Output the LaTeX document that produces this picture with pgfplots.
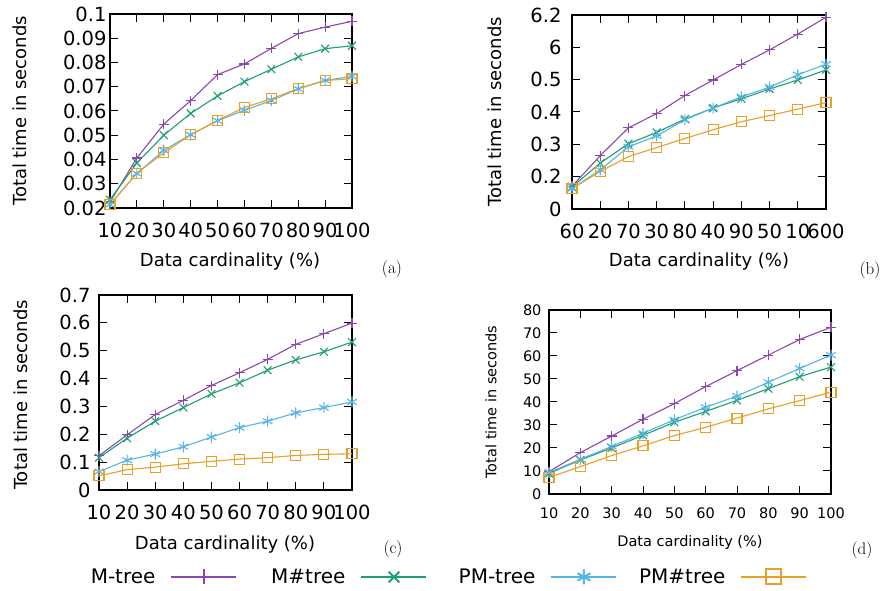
\documentclass[border=0pt]{standalone}
\usepackage{pgfplots}
\pgfplotsset{compat=1.18}
\usepackage{pgfplotstable}
\usepackage{fontspec}
\newfontfamily\dejavu{DejaVu Sans}
\definecolor{cM}{HTML}{8B47AD}
\definecolor{cMs}{HTML}{1E9E72}
\definecolor{cPM}{HTML}{56B4E9}
\definecolor{cPMs}{HTML}{E8A028}

\pgfplotstableread{
x M Ms PM PMs
10 0.0225 0.0234 0.0214 0.0214
20 0.0406 0.0386 0.0342 0.0344
30 0.0546 0.0500 0.0438 0.0427
40 0.0643 0.0590 0.0502 0.0502
50 0.0750 0.0662 0.0560 0.0561
60 0.0794 0.0721 0.0603 0.0615
70 0.0858 0.0772 0.0643 0.0650
80 0.0919 0.0823 0.0691 0.0693
90 0.0946 0.0857 0.0726 0.0726
100 0.0970 0.0869 0.0743 0.0733
}\tA
\pgfplotstableread{
x M Ms PM PMs
10 0.170 0.168 0.163 0.163
20 0.265 0.242 0.221 0.216
30 0.351 0.302 0.292 0.262
40 0.395 0.337 0.326 0.290
50 0.451 0.378 0.376 0.318
60 0.499 0.412 0.412 0.345
70 0.547 0.441 0.447 0.370
80 0.592 0.471 0.477 0.389
90 0.641 0.499 0.515 0.409
100 0.693 0.530 0.548 0.429
}\tB
\pgfplotstableread{
x M Ms PM PMs
10 0.123 0.116 0.066 0.051
20 0.198 0.186 0.107 0.073
30 0.271 0.247 0.129 0.082
40 0.322 0.296 0.155 0.094
50 0.375 0.345 0.190 0.103
60 0.421 0.385 0.224 0.111
70 0.469 0.430 0.247 0.116
80 0.523 0.467 0.277 0.124
90 0.561 0.496 0.296 0.128
100 0.599 0.531 0.316 0.130
}\tC
\pgfplotstableread{
x M Ms PM PMs
10 9.7 9.0 9.3 7.2
20 18.0 14.8 15.1 11.9
30 25.2 20.0 20.7 16.7
40 32.5 25.5 26.4 20.9
50 39.3 31.2 32.3 25.4
60 46.7 35.9 37.7 29.0
70 53.6 40.7 42.6 33.0
80 60.4 45.8 48.6 37.0
90 67.2 51.0 54.6 40.6
100 72.5 55.2 60.4 44.3
}\tD

\newcommand{\bigf}{\dejavu\fontsize{18}{21}\selectfont}
\newcommand{\tickf}{\dejavu\fontsize{19.5}{22}\selectfont}
\newcommand{\legf}{\dejavu\fontsize{20}{23}\selectfont}
\newcommand{\smallf}{\dejavu\fontsize{14.5}{17}\selectfont}

\pgfplotsset{
  gp/.style={
    scale only axis, anchor=south west, clip=false,
    axis line style={line width=1.1pt},
    every tick/.style={black, line width=1pt},
    major tick length=8pt, tick align=inside,
    tick label style={font=\tickf},
    label style={font=\bigf},
    /pgf/number format/assume math mode=true,
    xmin=10, xmax=100, xtick={10,20,...,100},
    xlabel={Data cardinality (\%)},
    ylabel={Total time in seconds},
  },
  sM/.style={color=cM, line width=1.1pt, mark=+, mark size=5pt, mark options={line width=1.1pt}},
  sMs/.style={color=cMs, line width=1.1pt, mark=x, mark size=5.5pt, mark options={line width=1.1pt}},
  sPM/.style={color=cPM, line width=1.1pt, mark=asterisk, mark size=5.5pt, mark options={line width=1.1pt}},
  sPMs/.style={color=cPMs, line width=1.1pt, mark=square, mark size=5pt, mark options={line width=1.1pt}},
}

\begin{document}
\begin{tikzpicture}
\path[use as bounding box] (0,0) rectangle (886pt,591pt);

% (a)
\begin{axis}[gp, at={(110pt,383pt)}, width=242pt, height=194pt,
  ymin=0.02, ymax=0.1, ytick={0.02,0.03,...,0.1},
  yticklabel style={/pgf/number format/.cd, fixed, precision=2},
  xticklabel style={yshift=-11pt},
  xlabel style={at={(axis description cs:0.496,-0.278)}, anchor=center},
  ylabel style={at={(axis description cs:-0.372,0.5)}, anchor=center},
]
\addplot[sM] table[x=x,y=M]{\tA};
\addplot[sMs] table[x=x,y=Ms]{\tA};
\addplot[sPM] table[x=x,y=PM]{\tA};
\addplot[sPMs] table[x=x,y=PMs]{\tA};
\node[font=\fontsize{17}{20}\selectfont] at (axis description cs:1.165,-0.314) {(a)};
\end{axis}

% (b)
\begin{axis}[gp, at={(572pt,382pt)}, width=254pt, height=194pt,
  ymin=0.1, ymax=0.7, ytick={0.1,0.2,0.3,0.4,0.5,0.6,0.7},
  yticklabels={0,0.2,0.3,0.4,0.5,6,6.2},
  yticklabel style={xshift=-7pt},
  xticklabels={60,20,70,30,80,40,90,50,10,600},
  xticklabel style={yshift=-11pt},
  xlabel style={at={(axis description cs:0.5,-0.273)}, anchor=center},
  ylabel style={at={(axis description cs:-0.303,0.5)}, anchor=center},
]
\addplot[sM] table[x=x,y=M]{\tB};
\addplot[sMs] table[x=x,y=Ms]{\tB};
\addplot[sPM] table[x=x,y=PM]{\tB};
\addplot[sPMs] table[x=x,y=PMs]{\tB};
\node[font=\fontsize{17}{20}\selectfont] at (axis description cs:1.173,-0.314) {(b)};
\end{axis}

% (c)
\begin{axis}[gp, at={(99pt,101pt)}, width=253pt, height=195pt,
  ymin=0, ymax=0.7, ytick={0,0.1,...,0.7},
  yticklabel style={xshift=-5pt, /pgf/number format/.cd, fixed, precision=1},
  xticklabel style={yshift=-11pt},
  xlabel style={at={(axis description cs:0.498,-0.282)}, anchor=center},
  ylabel style={at={(axis description cs:-0.308,0.487)}, anchor=center},
  legend columns=4, legend plot pos=right,
  legend style={at={(axis description cs:1.33,-0.446)}, anchor=center,
    draw=none, fill=none, font=\legf, nodes={inner sep=0pt},
    /tikz/every odd column/.append style={column sep=15pt},
    /tikz/every even column/.append style={column sep=16pt}},
  legend image code/.code={\draw[mark repeat=2,mark phase=2,#1,line width=2pt,mark size=7.5pt,mark options={line width=2pt}] plot coordinates {(0pt,0pt) (32.5pt,0pt) (65pt,0pt)};},
]
\addplot[sM] table[x=x,y=M]{\tC};
\addplot[sMs] table[x=x,y=Ms]{\tC};
\addplot[sPM] table[x=x,y=PM]{\tC};
\addplot[sPMs] table[x=x,y=PMs]{\tC};
\legend{\makebox[92pt][r]{M-tree}, \makebox[92pt][r]{M\#tree}, \makebox[92pt][r]{PM-tree}, \makebox[92pt][r]{PM\#tree}}
\node[font=\fontsize{17}{20}\selectfont] at (axis description cs:1.162,-0.303) {(c)};
\end{axis}

% (d)
\begin{axis}[gp, at={(549pt,97pt)}, width=282pt, height=184pt,
  tick label style={font=\smallf}, label style={font=\smallf},
  ymin=0, ymax=80, ytick={0,10,...,80},
  yticklabel style={xshift=-4pt},
  xticklabel style={yshift=-10pt},
  xlabel style={at={(axis description cs:0.5,-0.266)}, anchor=center},
  ylabel style={at={(axis description cs:-0.206,0.5)}, anchor=center},
]
\addplot[sM] table[x=x,y=M]{\tD};
\addplot[sMs] table[x=x,y=Ms]{\tD};
\addplot[sPM] table[x=x,y=PM]{\tD};
\addplot[sPMs] table[x=x,y=PMs]{\tD};
\node[font=\fontsize{17}{20}\selectfont] at (axis description cs:1.11,-0.304) {(d)};
\end{axis}
\end{tikzpicture}
\end{document}
